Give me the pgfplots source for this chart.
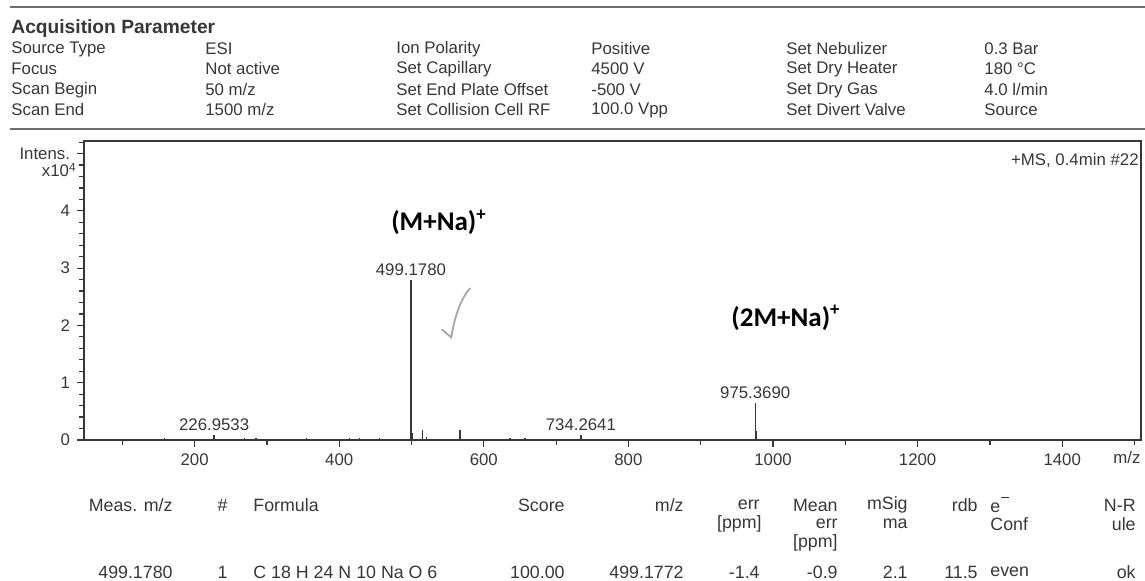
\documentclass[border=0pt]{standalone}
\usepackage{fontspec}
\setmainfont{Liberation Sans}
\newfontfamily\calibri{Carlito}
\usepackage{pgfplots}
\pgfplotsset{compat=1.18}
\definecolor{ink}{RGB}{55,55,55}
\definecolor{rule}{RGB}{110,110,110}
\newcommand\fs{\fontsize{8.4}{10}\selectfont}
\newcommand\fst{\fontsize{8.9}{10}\selectfont}
\begin{document}
\begin{tikzpicture}[x=0.5pt,y=-0.5pt,
  t/.style={text=ink, inner sep=0pt, font=\fs},
  tw/.style={t, anchor=west},
  te/.style={t, anchor=east},
  tbw/.style={tw, font=\fst},
  tbe/.style={te, font=\fst}]
\path[use as bounding box] (0,0) rectangle (1145,581);
\coordinate (AO) at (84,440);
% header rules
\draw[rule, line width=0.7pt] (10,7) -- (1145,7);
\draw[rule, line width=0.7pt] (10,129) -- (1145,129);
% header text
\node[t, anchor=west, font=\fontsize{9.6}{11}\selectfont\bfseries] at (11,29) {Acquisition Parameter};
\node[tw] at (11,49) {Source Type};
\node[tw] at (11,69) {Focus};
\node[tw] at (11,90) {Scan Begin};
\node[tw] at (11,110) {Scan End};
\node[tw] at (205,49) {ESI};
\node[tw] at (205,69) {Not active};
\node[tw] at (205,90) {50 m/z};
\node[tw] at (205,110) {1500 m/z};
\node[tw] at (396,49) {Ion Polarity};
\node[tw] at (396,69) {Set Capillary};
\node[tw] at (396,90) {Set End Plate Offset};
\node[tw] at (396,110) {Set Collision Cell RF};
\node[tw] at (591,49) {Positive};
\node[tw] at (591,69) {4500 V};
\node[tw] at (591,90) {-500 V};
\node[tw] at (591,110) {100.0 Vpp};
\node[tw] at (786,49) {Set Nebulizer};
\node[tw] at (786,69) {Set Dry Heater};
\node[tw] at (786,90) {Set Dry Gas};
\node[tw] at (786,110) {Set Divert Valve};
\node[tw] at (984,49) {0.3 Bar};
\node[tw] at (984,69) {180 °C};
\node[tw] at (984,90) {4.0 l/min};
\node[tw] at (984,110) {Source};
\begin{scope}[x=1cm,y=1cm]
\begin{axis}[at={(AO)}, anchor=south west,
  width=528.5pt, height=149.5pt, scale only axis,
  xmin=47, xmax=1509, ymin=0, ymax=5.22,
  axis line style={ink, line width=0.7pt},
  tick style={ink, line width=0.6pt},
  tick align=outside, tick pos=left,
  major tick length=3.5pt, minor tick length=2.5pt,
  xtick={200,400,600,800,1000,1200,1400},
  minor xtick={100,300,500,700,900,1100,1300,1500},
  ytick={0,1,2,3,4,5}, yticklabels={0,1,2,3,4,Intens.},
  minor ytick={0.2,0.4,0.6,0.8,1.2,1.4,1.6,1.8,2.2,2.4,2.6,2.8,3.2,3.4,3.6,3.8,4.2,4.4,4.6,4.8,5.2},
  tick label style={font=\fs, text=ink},
  /pgf/number format/assume math mode=true,
  /pgf/number format/set thousands separator={},
  scaled ticks=false,
  clip=false]
\addplot[ycomb, ink, line width=0.7pt, mark=none] coordinates {
  (158,0.04) (226.9533,0.08) (269,0.04) (285,0.03) (355,0.03) (414,0.04)
  (428,0.03) (456,0.03) (500.18,0.55) (501.18,0.12)
  (515.5,0.17) (521,0.05) (567,0.17) (636,0.04) (657,0.04)
  (734.2641,0.08) (975.3690,0.65) (976.37,0.15)
};
\addplot[ycomb, ink, line width=1.1pt, mark=none] coordinates {(499.1780,2.79)};
\node[text=ink, font=\fs, anchor=south, inner sep=2pt] at (axis cs:499.178,2.79) {499.1780};
\node[text=ink, font=\fs, anchor=south, inner sep=2pt] at (axis cs:975.369,0.65) {975.3690};
\node[text=ink, font=\fs, anchor=south, inner sep=2pt] at (axis cs:226.9533,0.08) {226.9533};
\node[text=ink, font=\fs, anchor=south, inner sep=2pt] at (axis cs:734.2641,0.08) {734.2641};
\node[font=\calibri\bfseries\fontsize{13.5}{15}\selectfont, text=black] at (axis cs:538,3.80) {(M+Na)\textsuperscript{+}};
\node[font=\calibri\bfseries\fontsize{13.5}{15}\selectfont, text=black] at (axis cs:1018,2.13) {(2M+Na)\textsuperscript{+}};
\draw[gray!70, line width=0.9pt, line cap=round] (axis cs:542,1.93) -- (axis cs:555,1.79) .. controls (axis cs:560,2.2) and (axis cs:570,2.5) .. (axis cs:581,2.65);
\end{axis}
\end{scope}
\node[te] at (1139,160) {+MS, 0.4min \#22};
\node[te] at (77,170) {x10\textsuperscript{4}};
\node[t] at (1127,457) {m/z};
% result table
\node[tbe] at (173,505) {Meas. m/z};
\node[tbe] at (228,505) {\#};
\node[tbw] at (253,505) {Formula};
\node[tbe] at (565,505) {Score};
\node[tbe] at (684,505) {m/z};
\node[tbe] at (760,505) {err};
\node[tbe] at (762,524) {[ppm]};
\node[tbe] at (838,505) {Mean};
\node[tbe] at (838,524) {err};
\node[tbe] at (838,543) {[ppm]};
\node[tbe] at (908,505) {mSig};
\node[tbe] at (908,524) {ma};
\node[tbe] at (978,505) {rdb};
\node[tbw] at (990,505) {e\kern0.5pt\raisebox{1.5ex}{\rule{0.45em}{0.5pt}}};
\node[tbw] at (990,524) {Conf};
\node[tbe] at (1136,505) {N-R};
\node[tbe] at (1136,524) {ule};
\node[tbe] at (173,572) {499.1780};
\node[tbe] at (228,572) {1};
\node[tbw] at (253,572) {C 18 H 24 N 10 Na O 6};
\node[tbe] at (565,572) {100.00};
\node[tbe] at (684,572) {499.1772};
\node[tbe] at (760,572) {-1.4};
\node[tbe] at (838,572) {-0.9};
\node[tbe] at (908,572) {2.1};
\node[tbe] at (978,572) {11.5};
\node[tbw] at (990,572) {even};
\node[tbe] at (1136,572) {ok};
\end{tikzpicture}
\end{document}
